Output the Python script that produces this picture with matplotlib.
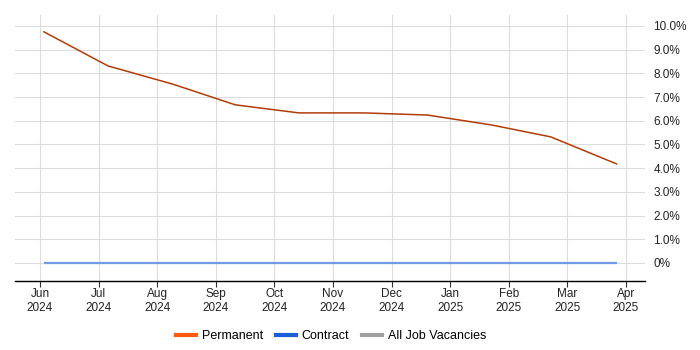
import matplotlib.pyplot as plt
import matplotlib.ticker as mticker
import numpy as np
import calendar

plt.rcParams['font.family'] = ['Liberation Sans', 'DejaVu Sans']

# sample dates (roughly monthly) and values in percent
dates = ['2024-06-03', '2024-07-06', '2024-08-09', '2024-09-11', '2024-10-14',
         '2024-11-17', '2024-12-20', '2025-01-23', '2025-02-21', '2025-03-27']
permanent = [9.75, 8.31, 7.55, 6.67, 6.33, 6.33, 6.24, 5.82, 5.32, 4.18]
contract = [0, 0, 0, 0, 0, 0, 0, 0, 0, 0]

tick_labels = ['Jun\n2024', 'Jul\n2024', 'Aug\n2024', 'Sep\n2024', 'Oct\n2024',
               'Nov\n2024', 'Dec\n2024', 'Jan\n2025', 'Feb\n2025', 'Mar\n2025',
               'Apr\n2025']


# the axis spaces months evenly, so map a date to a fractional month index from Jun 2024
def month_pos(s):
    y, m, d = (int(v) for v in s.split('-'))
    idx = (y - 2024) * 12 + (m - 6)
    return idx + (d - 1) / calendar.monthrange(y, m)[1]


x = [month_pos(d) for d in dates]

fig = plt.figure(figsize=(7, 3.5), dpi=100)
ax = fig.add_axes([15 / 700, 1 - 281 / 350, 630 / 700, 266 / 350])

ax.plot(x, contract, color='#6f9be8', lw=1.6, solid_capstyle='butt')
ax.plot(x, permanent, color='#b23c08', lw=1.1)

ax.set_xlim(-25 / 58.6, 10 + 19 / 58.6)
ax.set_ylim(-0.76, 10.46)

ax.set_xticks(range(len(tick_labels)))
ax.set_xticklabels(tick_labels)
ax.set_yticks(np.arange(0, 11, 1))
ax.yaxis.set_major_formatter(mticker.FuncFormatter(lambda v, p: '0%' if v == 0 else f'{v:.1f}%'))
ax.yaxis.tick_right()

ax.grid(True, color='#dcdcdc', lw=0.8)
ax.set_axisbelow(True)
for s in ['top', 'left', 'right']:
    ax.spines[s].set_visible(False)
ax.spines['bottom'].set_color('#000000')
ax.spines['bottom'].set_linewidth(1.0)

ax.tick_params(axis='x', length=4, color='#333333', labelsize=8.5, pad=1)
ax.tick_params(axis='y', length=0, labelsize=8.5, pad=6)
for lab in ax.get_xticklabels():
    lab.set_linespacing(1.2)
for lab in ax.get_xticklabels() + ax.get_yticklabels():
    lab.set_color('#222222')

handles = [plt.Line2D([], [], color='#ff5a10', lw=3),
           plt.Line2D([], [], color='#1a5fd8', lw=3),
           plt.Line2D([], [], color='#a0a0a0', lw=3)]
fig.legend(handles, ['Permanent', 'Contract', 'All Job Vacancies'],
           loc='center', bbox_to_anchor=(331 / 700, 1 - 336 / 350), ncol=3,
           frameon=False, fontsize=9, handlelength=1.6, columnspacing=1.0,
           handletextpad=0.5)

fig.savefig('out.png', dpi=100)
